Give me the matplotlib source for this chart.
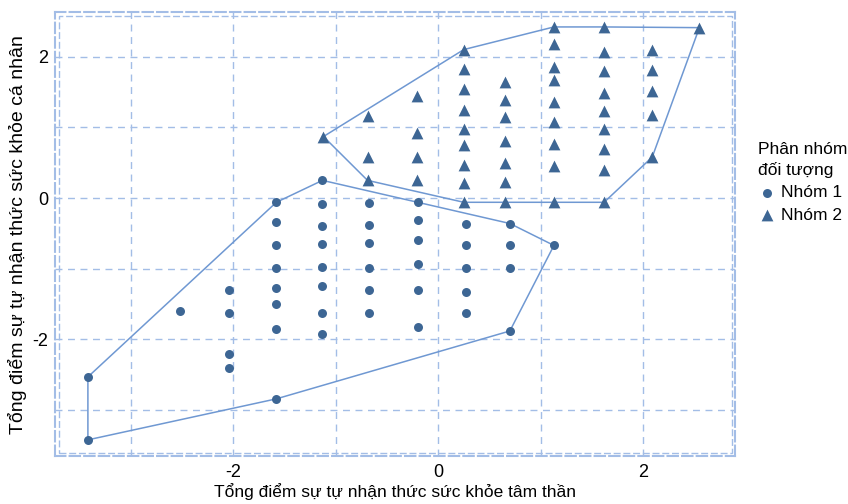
import matplotlib
matplotlib.use("Agg")
import matplotlib.pyplot as plt
from matplotlib.patches import Rectangle
import numpy as np

plt.rcParams['font.family'] = ['Liberation Sans', 'DejaVu Sans']
plt.rcParams['axes.unicode_minus'] = False

# Nhóm 1 (circles)
g1_x = [-3.42, -3.42, -2.52,
        -2.04, -2.04, -2.04, -2.04,
        -1.58, -1.58, -1.58, -1.58, -1.58, -1.58, -1.58, -1.58,
        -1.13, -1.13, -1.13, -1.13, -1.13, -1.13, -1.13, -1.13,
        -0.68, -0.68, -0.68, -0.68, -0.68, -0.68,
        -0.20, -0.20, -0.20, -0.20, -0.20, -0.20,
        0.27, 0.27, 0.27, 0.27, 0.27,
        0.70, 0.70, 0.70, 0.70,
        1.13]
g1_y = [-2.53, -3.42, -1.60,
        -1.30, -1.63, -2.20, -2.40,
        -0.06, -0.34, -0.66, -0.99, -1.27, -1.50, -1.85, -2.84,
        0.25, -0.08, -0.39, -0.65, -0.97, -1.25, -1.62, -1.92,
        -0.07, -0.38, -0.64, -0.99, -1.30, -1.63,
        -0.06, -0.31, -0.60, -0.93, -1.30, -1.82,
        -0.37, -0.66, -0.99, -1.33, -1.63,
        -0.36, -0.67, -0.99, -1.88,
        -0.67]

# Nhóm 2 (triangles)
g2_x = [-1.12,
        -0.69, -0.69, -0.69,
        -0.21, -0.21, -0.21, -0.21,
        0.25, 0.25, 0.25, 0.25, 0.25, 0.25, 0.25, 0.25, 0.25,
        0.65, 0.65, 0.65, 0.65, 0.65, 0.65, 0.65,
        1.13, 1.13, 1.13, 1.13, 1.13, 1.13, 1.13, 1.13, 1.13,
        1.62, 1.62, 1.62, 1.62, 1.62, 1.62, 1.62, 1.62, 1.62,
        2.09, 2.09, 2.09, 2.09, 2.09,
        2.55]
g2_y = [0.87,
        1.16, 0.58, 0.25,
        1.45, 0.92, 0.58, 0.25,
        2.10, 1.83, 1.54, 1.25, 0.98, 0.75, 0.47, 0.21, -0.06,
        1.64, 1.39, 1.14, 0.81, 0.50, 0.23, -0.06,
        2.42, 2.18, 1.86, 1.67, 1.36, 1.07, 0.76, 0.45, -0.06,
        2.42, 2.07, 1.79, 1.49, 1.23, 0.98, 0.69, 0.39, -0.06,
        2.10, 1.81, 1.51, 1.18, 0.58,
        2.41]

labels = ['Nhóm 1', 'Nhóm 2']
markers = ['o', '^']
sizes = [42, 72]

POINT_COLOR = '#3d6694'
HULL_COLOR = '#6f98d2'
GRID_COLOR = '#a3bde6'


def hull(px, py):
    pts = sorted(set(zip(px, py)))

    def cross(o, a, b):
        return (a[0]-o[0])*(b[1]-o[1]) - (a[1]-o[1])*(b[0]-o[0])
    lower, upper = [], []
    for p in pts:
        while len(lower) >= 2 and cross(lower[-2], lower[-1], p) <= 0:
            lower.pop()
        lower.append(p)
    for p in reversed(pts):
        while len(upper) >= 2 and cross(upper[-2], upper[-1], p) <= 0:
            upper.pop()
        upper.append(p)
    h = lower[:-1] + upper[:-1]
    h.append(h[0])
    return np.array(h)


fig = plt.figure(figsize=(8.48, 5.04), dpi=100)
ax = fig.add_axes([0.065, 0.095, 0.802, 0.881])

for gx, gy, lab, mk, sz in zip([g1_x, g2_x], [g1_y, g2_y], labels, markers, sizes):
    h = hull(gx, gy)
    ax.plot(h[:, 0], h[:, 1], color=HULL_COLOR, lw=1.1, zorder=2)
    ax.scatter(gx, gy, marker=mk, s=sz, color=POINT_COLOR, lw=0, zorder=3, label=lab)

ax.set_xlim(-3.74, 2.90)
ax.set_ylim(-3.65, 2.63)
ax.set_xticks([-2, 0, 2])
ax.set_yticks([-2, 0, 2])
ax.set_xticks([-3, -1, 1], minor=True)
ax.set_yticks([-3, -1, 1], minor=True)
ax.tick_params(which='both', length=0, labelsize=13)
ax.tick_params(axis='y', pad=5)
ax.tick_params(axis='x', pad=6)
ax.grid(True, which='both', color=GRID_COLOR, ls=(0, (5, 4)), lw=1.0)
ax.set_axisbelow(True)

for s in ax.spines.values():
    s.set_color(GRID_COLOR)
    s.set_linestyle((0, (5, 2)))
    s.set_linewidth(1.5)
ax.add_patch(Rectangle((0.005, 0.008), 0.99, 0.984, transform=ax.transAxes,
                       fill=False, ec=GRID_COLOR, ls=(0, (5, 2)), lw=1.0, zorder=1))

ax.set_xlabel('Tổng điểm sự tự nhận thức sức khỏe tâm thần', fontsize=12.5, labelpad=1)
ax.set_ylabel('Tổng điểm sự tự nhận thức sức khỏe cá nhân', fontsize=14, labelpad=4)

leg = fig.legend(loc='upper left', bbox_to_anchor=(0.886, 0.733), frameon=False,
                 title='Phân nhóm\nđối tượng', fontsize=12.5, title_fontsize=12.5,
                 alignment='left', handletextpad=0.3, borderaxespad=0,
                 handlelength=1.0, labelspacing=0.4)
leg.get_title().set_linespacing(1.45)

fig.savefig('out.png', dpi=100)
